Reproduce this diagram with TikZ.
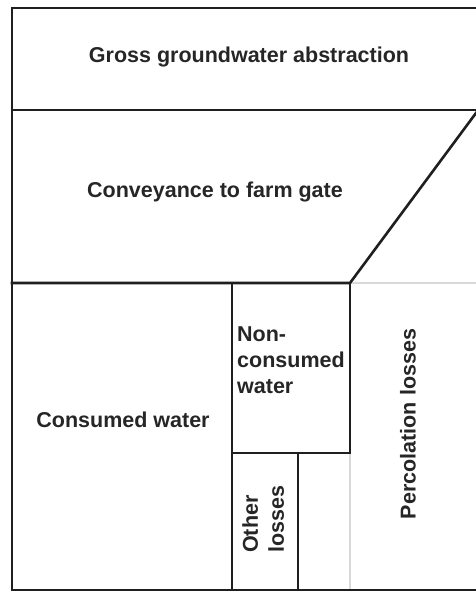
\documentclass[tikz,border=0pt]{standalone}
\usepackage{fontspec}
\setmainfont{Liberation Sans}
\begin{document}
\begin{tikzpicture}[x=1pt,y=-1pt,
  wall/.style={line width=2.6pt,draw=black!88,line cap=rect},
  faint/.style={line width=1.6pt,draw=black!15},
  lbl/.style={font=\fontsize{21.5}{26}\selectfont\bfseries,text=black!85,inner sep=0pt}]
\useasboundingbox (0,0) rectangle (476,592);
\fill[white] (0,0) rectangle (476,592);
% corners
\coordinate (tl) at (12,8);
\coordinate (tr) at (476,8);
\coordinate (bl) at (12,590);
\coordinate (br) at (476,590);
\coordinate (ml) at (12,110);
\coordinate (mr) at (476,110);
\coordinate (cl) at (12,283);
\coordinate (cm) at (350,283);
\coordinate (cr) at (476,283);
\coordinate (dt) at (476,113);
\coordinate (v1t) at (232,283);
\coordinate (v1b) at (232,590);
\coordinate (nl) at (232,453);
\coordinate (nr) at (350,453);
\coordinate (v2b) at (298,590);
\coordinate (v2t) at (298,453);
\coordinate (v3b) at (350,590);
% faint lines
\draw[faint] (cm) -- (cr);
\draw[faint] (nr) -- (v3b);
% walls
\draw[wall] (tr) -- (tl) -- (bl) -- (br);
\draw[wall] (ml) -- (mr);
\draw[wall] (cl) -- (cm) -- (dt);
\draw[wall] (v1t) -- (v1b);
\draw[wall] (nl) -- (nr) -- (cm);
\draw[wall] (v2t) -- (v2b);
% labels
\node[lbl] (gross) at (249,57) {Gross groundwater abstraction};
\node[lbl] (conv) at (215,192) {Conveyance to farm gate};
\node[lbl] (cons) at (123,420) {Consumed water};
\node[lbl,anchor=north west,align=left] (noncons) at (237,327) {Non-\\consumed\\water};
\node[lbl,rotate=90] (perc) at (408,424) {Percolation losses};
\node[lbl,rotate=90,anchor=north west,align=left] (other) at (242,553) {Other\\losses};
\end{tikzpicture}
\end{document}
